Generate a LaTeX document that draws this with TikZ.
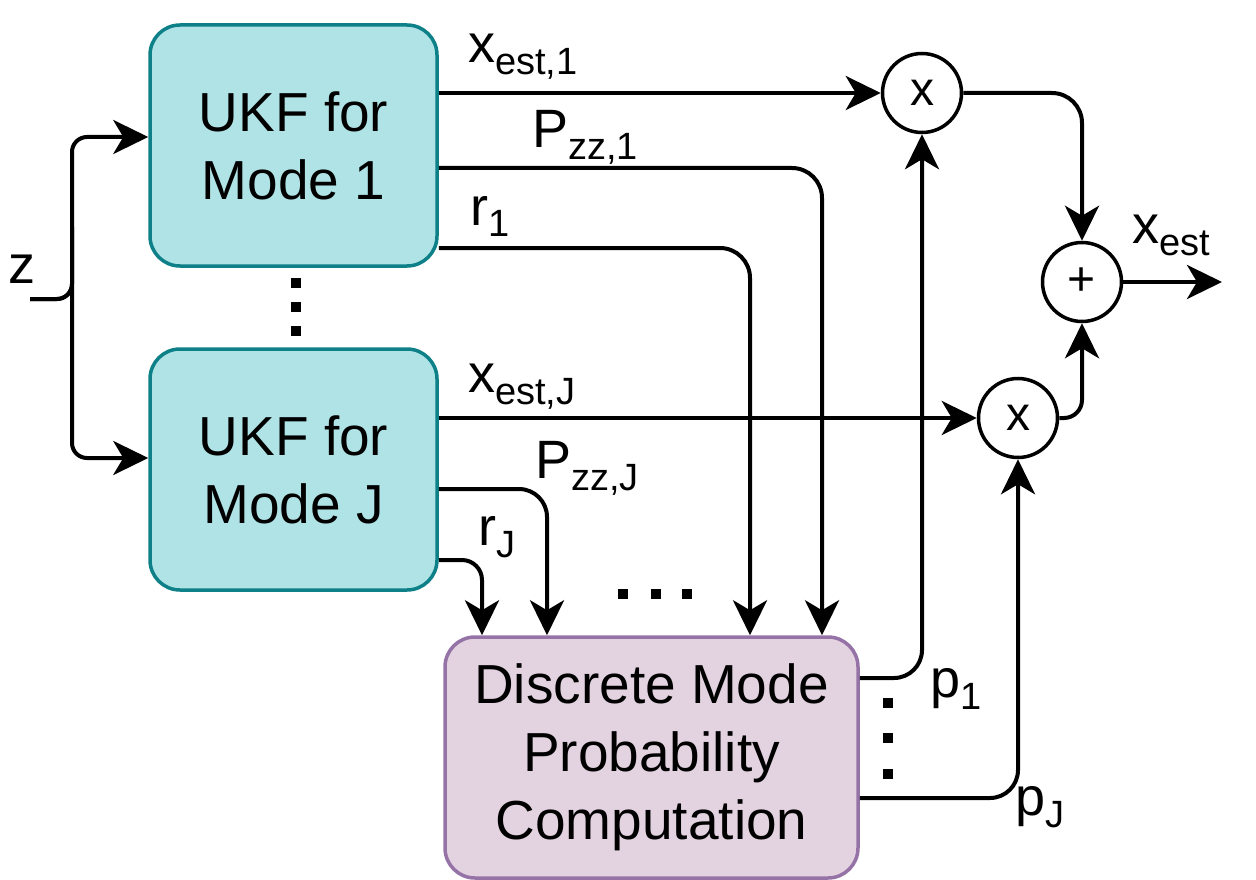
\documentclass[tikz,border=0pt]{standalone}
\usepackage{fontspec}
\setmainfont{Liberation Sans}
\usetikzlibrary{arrows.meta,calc}
\definecolor{tealfill}{HTML}{B0E3E6}
\definecolor{tealline}{HTML}{0E8088}
\definecolor{purpfill}{HTML}{E3D2E0}
\definecolor{purpline}{HTML}{9673A6}
\newcommand\bigf{\fontsize{55}{68}\selectfont}
\newcommand\labf{\fontsize{54}{60}\selectfont}
\newcommand\sbs[1]{\raisebox{-12pt}{\fontsize{38}{38}\selectfont #1}}
\tikzset{
  blockbox/.style={draw, line width=3.5pt, rounded corners=30pt, align=center, font=\bigf, inner sep=0pt},
  ukfbox/.style={blockbox, fill=tealfill, draw=tealline, minimum width=287pt, minimum height=241pt},
  dmbox/.style={blockbox, fill=purpfill, draw=purpline, minimum width=413pt, minimum height=241pt},
  opnode/.style={circle, draw, line width=3.5pt, minimum size=79pt, inner sep=0pt, font=\fontsize{48}{48}\selectfont, fill=white},
  lab/.style={anchor=base west, inner sep=0pt, font=\labf},
  arr/.style={line width=4pt, -{Stealth[length=35pt,width=34pt,inset=10pt]}},
  dotsq/.style={fill=black}
}
\begin{document}
\begin{tikzpicture}[x=1pt,y=-1pt]
\useasboundingbox (0,0) rectangle (1256,880);
% blocks
\node[ukfbox] (u1) at (293.5,145.5) {UKF for\\Mode 1};
\node[ukfbox] (uJ) at (293.5,469.5) {UKF for\\Mode J};
\node[dmbox] (dm) at (651.5,757.5) {Discrete Mode\\Probability\\Computation};
\node[opnode] (m1) at (922,93) {x};
\node[opnode] (m2) at (1018,418) {x};
\node[opnode] (pl) at (1082,282) {+};
\coordinate (zin) at (30,299);
\coordinate (zb) at (72,218);
\coordinate (out) at (1222,282);
% input z
\draw[arr, rounded corners=15pt] (zin) -| (zb) |- ([yshift=8.5pt]u1.west);
\draw[arr, rounded corners=15pt] (zin) -| (zb) |- ([yshift=11.5pt]uJ.west);
% outputs of UKF 1
\draw[arr] (u1.east |- m1) -- (m1.west);
\draw[arr, rounded corners=30pt] ([yshift=-22.5pt]u1.east) -| ([xshift=170.5pt]dm.north);
\draw[arr, rounded corners=30pt] ([yshift=-102.5pt]u1.east) -| ([xshift=98.5pt]dm.north);
% outputs of UKF J
\draw[arr] (uJ.east |- m2) -- (m2.west);
\draw[arr, rounded corners=28pt] ([yshift=-19.5pt]uJ.east) -| ([xshift=-104.5pt]dm.north);
\draw[arr, rounded corners=20pt] ([yshift=-90.5pt]uJ.east) -| ([xshift=-169.5pt]dm.north);
% probabilities
\draw[arr, rounded corners=28pt] ([yshift=79.5pt]dm.east) -| (m1.south);
\draw[arr, rounded corners=28pt] ([yshift=-40.5pt]dm.east) -| (m2.south);
% combination
\draw[arr, rounded corners=30pt] (m1.east) -| (pl.north);
\draw[arr, rounded corners=18pt] (m2.east) -| (pl.south);
\draw[arr] (pl.east) -- (out);
% labels
\node[lab] (lz) at (8,283) {z};
\node[lab] (l1) at (468,63) {x\sbs{est,1}};
\node[lab] (l2) at (532,148) {P\sbs{zz,1}};
\node[lab] (l3) at (470,225) {r\sbs{1}};
\node[lab] (l4) at (468,392) {x\sbs{est,J}};
\node[lab] (l5) at (535,478) {P\sbs{zz,J}};
\node[lab] (l6) at (478,545) {r\sbs{J}};
\node[lab] (l7) at (930,697) {p\sbs{1}};
\node[lab] (l8) at (1015,815) {p\sbs{J}};
\node[lab] (l9) at (1132,243) {x\sbs{est}};
% ellipsis dots
\foreach \y in {283,307,331} \fill[dotsq] (291,\y-5) rectangle (301,\y+5);
\foreach \x in {623,656,687} \fill[dotsq] (\x-5,589) rectangle (\x+5,599);
\foreach \y in {703,738,774} \fill[dotsq] (883,\y-5) rectangle (893,\y+5);
\end{tikzpicture}
\end{document}
